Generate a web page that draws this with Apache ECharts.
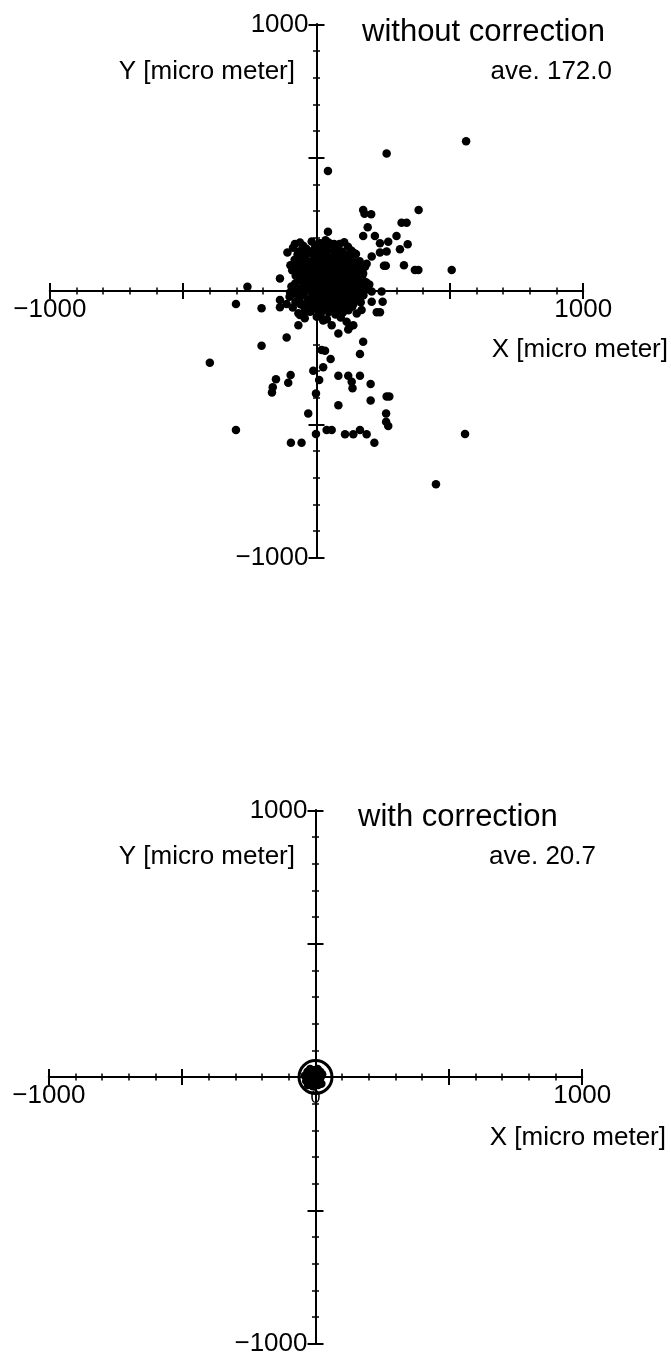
<!DOCTYPE html>
<html>
<head>
<meta charset="utf-8">
<script src="https://cdn.jsdelivr.net/npm/echarts@6/dist/echarts.min.js"></script>
<style>
html,body{margin:0;padding:0;background:#fff;}
#chart{width:671px;height:1357px;}
</style>
</head>
<body>
<div id="chart"></div>
<script>
// ---- data (micro meter) ----
const axisMin = -1000, axisMax = 1000;
const tickLabels = ['−1000', '0', '1000'];
const titles = ['without correction', 'with correction'];
const averages = ['ave. 172.0', 'ave. 20.7'];
const xName = 'X [micro meter]';
const yName = 'Y [micro meter]';

// without correction: sparse points
const withoutSparse = [
  [561,562],[263,516],[43,450],[383,304],[175,304],[180,290],[205,288],[319,256],[338,256],
  [43,222],[192,239],[175,206],[219,206],[238,179],[269,185],[300,206],[342,175],[313,157],
  [263,148],[238,144],[207,129],[253,95],[260,95],[328,97],[369,79],[382,79],[507,79],
  [138,144],[13,179],[44,166],[66,176],[86,176],[94,129],[175,66],[182,91],[169,35],
  [-109,144],[-81,176],[-66,147],[-137,47],[-259,16],[207,-2],[244,-2],[-68,66],[-87,4],[-99,-6],
  [-302,-49],[-206,-65],[-137,-61],[-137,-34],[-112,-49],[-68,-128],[-62,-90],[-43,-77],
  [25,-111],[57,-128],[82,-159],[113,-115],[125,-134],[138,-128],[119,-144],[169,-71],
  [226,-80],[238,-80],[207,-40],[248,-40],[175,-190],[163,-236],[-112,-174],[-206,-205],
  [-400,-269],[19,-221],[32,-224],[53,-255],[25,-286],[-12,-299],[10,-334],[82,-318],
  [119,-318],[163,-318],[132,-340],[135,-365],[203,-349],[-97,-315],[-106,-344],[-152,-331],
  [-164,-361],[-167,-381],[-2,-384],[263,-396],[273,-396],[203,-411],[82,-428],[-31,-459],
  [261,-459],[261,-490],[269,-506],[-302,-521],[-2,-536],[38,-521],[57,-521],[107,-537],
  [138,-537],[163,-521],[188,-537],[217,-569],[-96,-569],[-56,-569],[557,-536],[448,-725]
];
// without correction: dense central cluster
const withoutCluster = [
  [-62,182],[-18,186],[12,178],[34,190],[58,174],[104,183],
  [-88,162],[-38,158],[3,164],[22,152],[52,160],[79,157],[118,166],
  [-71,138],[-27,142],[-8,133],[17,140],[41,128],[69,143],[108,136],[148,139],
  [-82,117],[-47,122],[-19,112],[2,120],[27,118],[48,109],[76,124],[98,113],[127,119],[162,112],
  [-98,97],[-58,103],[-33,94],[-4,99],[21,92],[44,104],[72,96],[93,88],[121,101],[144,94],[188,102],
  [-91,78],[-52,83],[-23,76],[6,81],[31,73],[57,84],[82,77],[104,70],[131,82],[158,75],
  [-78,57],[-41,62],[-12,54],[11,61],[36,49],[63,58],[86,63],[112,52],[138,59],[171,55],
  [-69,38],[-28,42],[1,33],[26,41],[49,30],[77,38],[101,44],[123,31],[152,39],[186,33],
  [-94,17],[-47,22],[-17,13],[9,19],[37,11],[62,23],[88,14],[116,21],[141,9],[168,18],[198,24],
  [-73,-3],[-33,2],[-2,-6],[29,4],[54,-8],[81,3],[106,-4],[129,6],[158,-2],[183,4],
  [-101,-22],[-54,-17],[-21,-26],[14,-19],[42,-24],[68,-15],[96,-27],[121,-18],[148,-23],[176,-16],
  [-79,-41],[-38,-45],[4,-38],[31,-47],[61,-36],[88,-44],[114,-39],[139,-48],[166,-42],
  [-89,-62],[-48,-57],[-11,-66],[24,-58],[52,-64],[79,-55],[107,-67],[134,-59],
  [-68,-83],[-24,-78],[16,-86],[46,-79],[71,-88],[99,-81],[151,-84],
  [-44,-102],[1,-97],[39,-106],[91,-99]
];
// without correction: core of the cluster (overlapping marks)
const withoutCore = [
  [-50,170],[-5,172],[25,168],[45,182],[80,172],
  [-60,150],[-15,150],[38,146],[65,152],[95,148],[130,152],
  [-55,130],[-40,135],[5,128],[30,132],[58,126],[88,130],[125,130],
  [-65,110],[-35,108],[14,106],[38,114],[62,112],[87,106],[112,110],[145,108],
  [-75,90],[-45,88],[-15,86],[10,88],[34,84],[58,94],[84,92],[108,84],[134,90],[170,88],
  [-65,68],[-30,70],[-2,68],[22,66],[46,70],[72,68],[96,72],[122,68],[148,66],
  [-55,48],[-20,50],[14,46],[38,60],[60,44],[90,50],[112,40],[140,48],[165,42],
  [-80,28],[-35,30],[-5,24],[22,28],[48,20],[75,26],[102,28],[128,24],[160,28],
  [-60,8],[-25,10],[20,8],[45,4],[68,10],[94,8],[118,10],[145,12],[172,8],
  [-85,-10],[-45,-6],[-10,-12],[18,-8],[42,-12],[65,-4],[92,-10],[118,-6],[140,-10],[168,-6],
  [-65,-30],[-30,-32],[0,-28],[28,-32],[55,-28],[82,-32],[108,-28],[134,-32],[160,-30],
  [-60,-50],[-20,-52],[16,-48],[45,-50],[72,-46],[100,-52],[125,-50],
  [-35,-68],[5,-72],[38,-70],[64,-74],[92,-70],[120,-72]
];
// with correction
const withPoints = [
  [-40,5],[-35,-15],[-30,20],[-28,-30],[-22,0],[-20,30],[-18,-20],[-12,12],[-10,-35],[-8,-8],
  [-5,25],[-3,5],[0,-22],[2,15],[5,-5],[8,30],[10,-30],[12,8],[15,-15],[18,20],[20,0],[22,-25],
  [25,10],[-15,-5],[-25,10],[0,0],[-5,-15],[10,18],[-32,-5],[15,-2]
];
const withCircle = [[0,0]];

// ---- layout ----
const FONT = '"Liberation Sans", Arial, Helvetica, sans-serif';
const H = 266.67; // half size of a panel in px
const panels = [
  {cx: 316.5, cy: 291},
  {cx: 315.5, cy: 1077}
];

const chart = echarts.init(document.getElementById('chart'), null, {renderer: 'canvas'});

function xLabel(v) {
  if (v === axisMin) return tickLabels[0];
  if (v === 0) return '{z|' + tickLabels[1] + '}';
  if (v === axisMax) return tickLabels[2];
  return '';
}
function yLabel(v) {
  if (v === axisMin) return tickLabels[0];
  if (v === axisMax) return tickLabels[2];
  return '';
}

const gridOpts = [], xAxes = [], yAxes = [];
const lineSt = {color: '#000', width: 2};
function shownAxis(gi, pos, labels) {
  return {
    gridIndex: gi, type: 'value', min: axisMin, max: axisMax, interval: 500, position: pos,
    splitLine: {show: false}, minorSplitLine: {show: false},
    axisLine: {show: true, onZero: false, lineStyle: lineSt},
    axisTick: {show: true, inside: false, length: 8, lineStyle: {color: '#000', width: 2}},
    minorTick: {show: true, splitNumber: 5, length: 3.5, lineStyle: {color: '#000', width: 1.5}},
    axisLabel: labels || {show: false}
  };
}
function hiddenAxis(gi, mn, mx) {
  return {gridIndex: gi, type: 'value', min: mn, max: mx, show: false,
    splitLine: {show: false}, axisLine: {onZero: false}};
}
function grid(l, t, w, h) {
  return {left: l, top: t, width: w, height: h, containLabel: false, outerBoundsMode: 'none', show: false};
}

const xLab = {show: true, formatter: xLabel, color: '#000', fontSize: 26, fontFamily: FONT, margin: 6,
  rich: {z: {fontSize: 18, fontFamily: FONT, color: '#000', padding: [6, 0, 0, 0]}}};
const yLab = {show: true, formatter: yLabel, color: '#000', fontSize: 26, fontFamily: FONT, margin: 8};

panels.forEach((p, k) => {
  const b = 5 * k;
  // 0: upper half -> x axis at its bottom (ticks down, labels)
  gridOpts.push(grid(p.cx - H, p.cy - H, 2*H, H));
  xAxes.push(shownAxis(b, 'bottom', xLab));
  yAxes.push(hiddenAxis(b, 0, axisMax));
  // 1: lower half -> x axis at its top (ticks up)
  gridOpts.push(grid(p.cx - H, p.cy, 2*H, H));
  xAxes.push(shownAxis(b + 1, 'top'));
  yAxes.push(hiddenAxis(b + 1, axisMin, 0));
  // 2: right half -> y axis at its left (ticks left, labels)
  gridOpts.push(grid(p.cx, p.cy - H, H, 2*H));
  xAxes.push(hiddenAxis(b + 2, 0, axisMax));
  yAxes.push(shownAxis(b + 2, 'left', yLab));
  // 3: left half -> y axis at its right (ticks right)
  gridOpts.push(grid(p.cx - H, p.cy - H, H, 2*H));
  xAxes.push(hiddenAxis(b + 3, axisMin, 0));
  yAxes.push(shownAxis(b + 3, 'right'));
  // 4: full panel for data
  gridOpts.push(grid(p.cx - H, p.cy - H, 2*H, 2*H));
  xAxes.push(hiddenAxis(b + 4, axisMin, axisMax));
  yAxes.push(hiddenAxis(b + 4, axisMin, axisMax));
});

const dot = {symbol: 'circle', symbolSize: 8.5, itemStyle: {color: '#000', opacity: 1}, z: 5};

const texts = [];
function addText(x, y, text, size, align) {
  texts.push({type: 'text', x: x, y: y, z: 10,
    style: {text: text, fill: '#000', font: size + 'px ' + FONT, textAlign: align, textVerticalAlign: 'middle'}});
}
// top panel
addText(362, 32, titles[0], 31, 'left');
addText(612, 72, averages[0], 26, 'right');
addText(295, 72, yName, 26, 'right');
addText(668, 350, xName, 26, 'right');
// bottom panel
addText(358, 817, titles[1], 31, 'left');
addText(596, 857, averages[1], 26, 'right');
addText(295, 857, yName, 26, 'right');
addText(666, 1138, xName, 26, 'right');

chart.setOption({
  backgroundColor: '#fff',
  animation: false,
  grid: gridOpts,
  xAxis: xAxes,
  yAxis: yAxes,
  graphic: texts,
  series: [
    Object.assign({type: 'scatter', xAxisIndex: 4, yAxisIndex: 4, data: withoutSparse}, dot),
    Object.assign({type: 'scatter', xAxisIndex: 4, yAxisIndex: 4, data: withoutCluster}, dot),
    Object.assign({type: 'scatter', xAxisIndex: 4, yAxisIndex: 4, data: withoutCore}, dot),
    Object.assign({type: 'scatter', xAxisIndex: 9, yAxisIndex: 9, data: withPoints}, dot),
    {type: 'scatter', xAxisIndex: 9, yAxisIndex: 9, data: withCircle, symbol: 'circle', symbolSize: 33,
      itemStyle: {color: 'rgba(0,0,0,0)', borderColor: '#000', borderWidth: 3, opacity: 1}, z: 6}
  ]
});
</script>
</body>
</html>
